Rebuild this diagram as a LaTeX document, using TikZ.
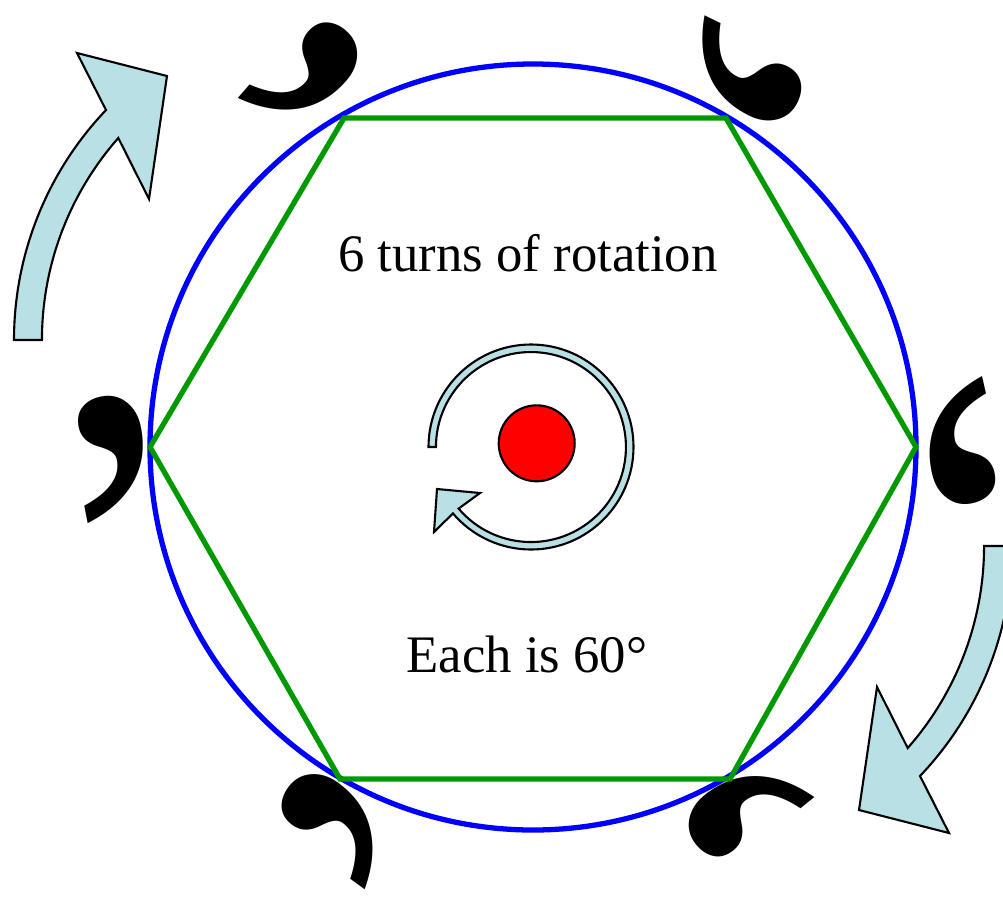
\documentclass[tikz,border=0pt]{standalone}
\usepackage{fontspec}
\setmainfont{Liberation Serif}
\usepackage{xcolor}
\definecolor{cRing}{HTML}{0000FF}
\definecolor{cHex}{HTML}{009900}
\definecolor{cArrow}{HTML}{B9E0E4}
\definecolor{cDot}{HTML}{FF0000}
\usepackage{tikz}
\usetikzlibrary{shapes.geometric}
\tikzset{
  ring-line/.style={draw=cRing,line width=3pt},
  hex-line/.style={draw=cHex,line width=3pt},
  block-arrow/.style={draw=black,fill=cArrow,line width=1.2pt,line join=miter},
  comma-mark/.style={inner sep=0pt,outer sep=0pt,
    font=\fontsize{270}{270}\selectfont},
  label-text/.style={inner sep=0pt,font=\fontsize{30}{36}\selectfont},
  hub-dot/.style={circle,draw=black,fill=cDot,line width=1.2pt,
    minimum size=1.52cm,inner sep=0pt},
}

\begin{document}
\begin{tikzpicture}[x=0.02cm,y=-0.02cm]
  \path[use as bounding box,clip] (0,0) rectangle (1003,896);
  % the six commas, one at each corner
  \foreach \px/\py/\rot [count=\k] in {117.5/455.9/11, 309/79.2/-41,
      742.1/79.6/-116, 956.2/445.4/193, 742/804.3/129, 340.4/820.4/54}
    \node[comma-mark,rotate=\rot] (mark-\k) at (\px,\py) {,};
  \draw[ring-line] (533,447) circle[radius=383];
  \draw[hex-line] (150,447) -- (344,118) -- (726,118) -- (916,447)
    -- (730,779) -- (340,779) -- cycle;
  % outer block arrows
  \foreach \ang in {0,180}
    \draw[block-arrow,rotate around={\ang:(513,443)}] (14,340)
      arc[start angle=180,end angle=223.6,radius=333.5] -- (77,53)
      -- (167,76) -- (149,199) -- (118.3,138)
      arc[start angle=221.4,end angle=180,radius=305.5] -- cycle;
  % small turn arrow round the centre
  \draw[block-arrow] (428.5,447)
    arc[start angle=180,end angle=499.6,radius=102.5] -- (434,532)
    -- (437,489) -- (480,493) -- (458.6,508.6)
    arc[start angle=499.6,end angle=180,radius=95] -- cycle;
  \node[hub-dot] (hub) at (536.7,443.3) {};
  \node[label-text,anchor=base] (title) at (528,271.7) {6 turns of rotation};
  \node[label-text,anchor=base] (note) at (527,672.7) {Each is 60°};
\end{tikzpicture}
\end{document}
